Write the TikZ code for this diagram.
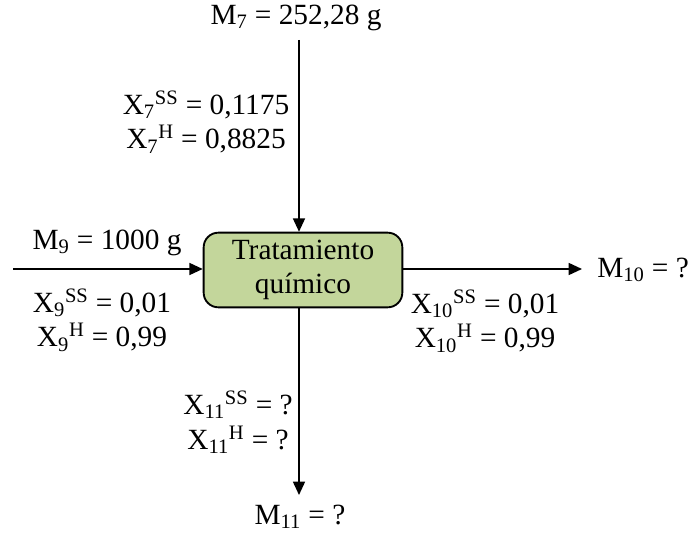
\documentclass[tikz,border=0pt]{standalone}
\usepackage{fontspec}
\setmainfont{Liberation Serif}
\usetikzlibrary{arrows.meta, positioning}
\definecolor{boxgreen}{RGB}{195,214,155}
\tikzset{
  procbox/.style={rectangle, draw=black, fill=boxgreen, align=center,
    minimum width=149pt, minimum height=56pt, rounded corners=11pt,
    line width=1.4pt, inner sep=2pt},
  flow/.style={-{Triangle[length=10pt, width=9pt]}, line width=1.2pt},
  lbl/.style={inner sep=0pt, align=center}
}

\begin{document}
\begin{tikzpicture}[x=0.75pt, y=-0.75pt,
    every node/.style={font=\fontsize{22}{26}\selectfont}]
  \useasboundingbox (0,0) rectangle (693,534);

  % process block
  \node[procbox] (proc) at (303,270) {Tratamiento\\químico};

  % stream 7 (top)
  \node[lbl] (m7) at (296,18) {M\textsubscript{7} = 252,28 g};
  \coordinate (in7) at (299,40);
  \draw[flow] (in7) -- (in7 |- proc.north);
  \node[lbl] (x7) at (206,122) {X\textsubscript{7}\textsuperscript{SS} = 0,1175\\X\textsubscript{7}\textsuperscript{H} = 0,8825};

  % stream 9 (left)
  \coordinate (in9) at (13,269);
  \draw[flow] (in9) -- (proc.west |- in9);
  \node[lbl] (m9) at (107,243) {M\textsubscript{9} = 1000 g};
  \node[lbl] (x9) at (102,320) {X\textsubscript{9}\textsuperscript{SS} = 0,01\\X\textsubscript{9}\textsuperscript{H} = 0,99};

  % stream 10 (right)
  \coordinate (out10) at (582,269);
  \draw[flow] (proc.east |- out10) -- (out10);
  \node[lbl, anchor=west] (m10) at (597,270) {M\textsubscript{10} = ?};
  \node[lbl] (x10) at (485,321) {X\textsubscript{10}\textsuperscript{SS} = 0,01\\X\textsubscript{10}\textsuperscript{H} = 0,99};

  % stream 11 (bottom)
  \coordinate (out11) at (299,495);
  \draw[flow] (out11 |- proc.south) -- (out11);
  \node[lbl] (x11) at (238,422) {X\textsubscript{11}\textsuperscript{SS} = ?\\X\textsubscript{11}\textsuperscript{H} = ?};
  \node[lbl] (m11) at (300,517) {M\textsubscript{11} = ?};
\end{tikzpicture}
\end{document}
